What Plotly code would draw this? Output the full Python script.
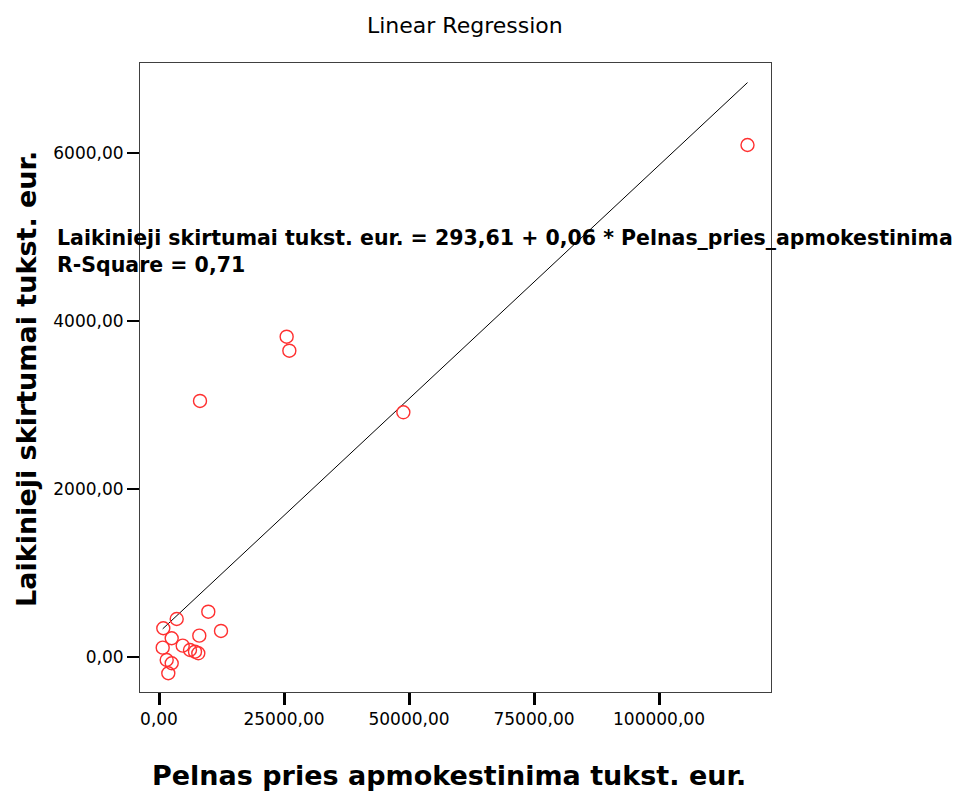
import plotly.graph_objects as go

# Profit before tax (thousand EUR) vs. temporary differences (thousand EUR)
profit_before_tax = [117700, 25530, 26070, 8200, 48870, 9860, 3540, 860, 12400,
                     8060, 2540, 740, 4740, 6200, 7200, 7860, 1540, 2540, 1860]
temporary_diff = [6095, 3813, 3646, 3048, 2913, 539, 452, 342, 310,
                  254, 223, 111, 135, 83, 63, 44, -36, -75, -194]

# Fitted regression coefficients
intercept = 293.61
slope = 0.0556
r_square = "0,71"

x_tick_vals = [0, 25000, 50000, 75000, 100000]
x_tick_text = ["0,00", "25000,00", "50000,00", "75000,00", "100000,00"]
y_tick_vals = [0, 2000, 4000, 6000]
y_tick_text = ["0,00", "2000,00", "4000,00", "6000,00"]

x_min, x_max = min(profit_before_tax), max(profit_before_tax)
fit_x = [x_min, x_max]
fit_y = [intercept + slope * v for v in fit_x]

fig = go.Figure()
fig.add_trace(go.Scatter(
    x=fit_x, y=fit_y, mode="lines",
    line=dict(color="black", width=1),
    hoverinfo="skip", showlegend=False,
))
fig.add_trace(go.Scatter(
    x=profit_before_tax, y=temporary_diff, mode="markers",
    marker=dict(symbol="circle-open", size=13, color="#ff3030",
                line=dict(width=1.4, color="#ff3030")),
    showlegend=False,
))

FONT = "DejaVu Sans, Arial, sans-serif"

fig.update_layout(
    width=971, height=791,
    margin=dict(l=140, r=200, t=63, b=99),
    paper_bgcolor="white", plot_bgcolor="white",
    font=dict(family=FONT, color="black"),
    xaxis=dict(
        range=[-3800, 122400],
        tickvals=x_tick_vals, ticktext=x_tick_text,
        ticks="outside", ticklen=12, tickwidth=3, tickcolor="black",
        tickfont=dict(size=17, family=FONT),
        showgrid=False, zeroline=False,
        showline=True, mirror=True, linecolor="#404040", linewidth=1,
    ),
    yaxis=dict(
        range=[-417, 7071],
        tickvals=y_tick_vals, ticktext=y_tick_text,
        ticks="outside", ticklen=12, tickwidth=2, tickcolor="black",
        tickfont=dict(size=17, family=FONT),
        showgrid=False, zeroline=False,
        showline=True, mirror=True, linecolor="#404040", linewidth=1,
    ),
    annotations=[
        dict(text="Linear Regression", xref="paper", yref="paper",
             x=0.515, y=1.059, xanchor="center", yanchor="middle",
             showarrow=False, font=dict(size=22, family=FONT)),
        dict(text="<b>Pelnas pries apmokestinima tukst. eur.</b>",
             xref="paper", yref="paper", x=0.49, y=-0.1335,
             xanchor="center", yanchor="middle", showarrow=False,
             font=dict(size=27, family=FONT)),
        dict(text="<b>Laikinieji skirtumai tukst. eur.</b>",
             xref="paper", yref="paper", x=-0.1807, y=0.4976,
             xanchor="center", yanchor="middle", textangle=-90,
             showarrow=False, font=dict(size=27, family=FONT)),
        dict(text=f"<b>Laikinieji skirtumai tukst. eur. = 293,61 + 0,06 * Pelnas_pries_apmokestinima</b>",
             xref="paper", yref="paper", x=-0.1347, y=0.7218,
             xanchor="left", yanchor="middle", showarrow=False,
             font=dict(size=20.5, family=FONT)),
        dict(text=f"<b>R-Square = {r_square}</b>",
             xref="paper", yref="paper", x=-0.1347, y=0.6789,
             xanchor="left", yanchor="middle", showarrow=False,
             font=dict(size=20.5, family=FONT)),
    ],
)

fig.write_html("out.html")
